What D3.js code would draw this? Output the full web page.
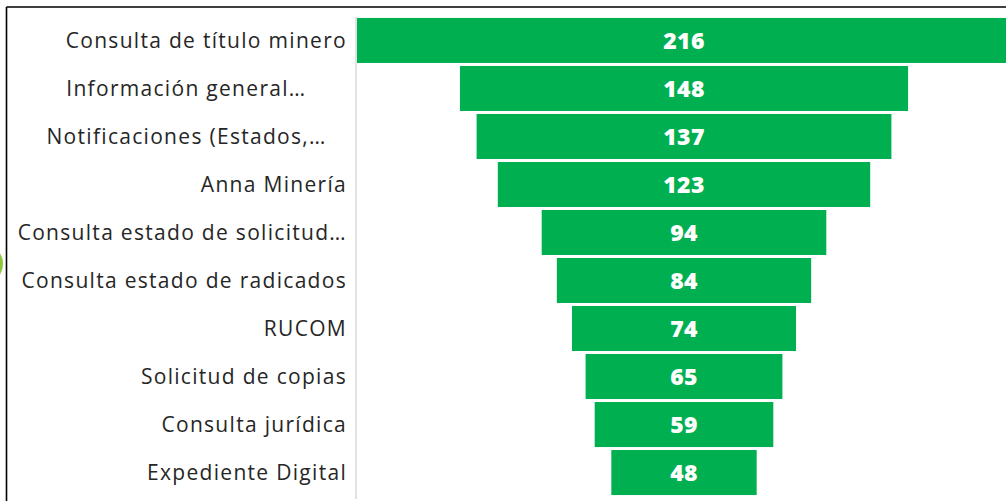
<!DOCTYPE html>
<html><head><meta charset="utf-8">
<script src="https://cdn.jsdelivr.net/npm/d3@7"></script>
<style>body{margin:0;background:#fff;}svg{display:block;}</style>
</head><body>
<svg id="c" width="1006" height="501"></svg>
<script>
const categories = ["Consulta de título minero","Información general…\u00a0\u00a0\u00a0\u00a0\u00a0\u00a0","Notificaciones (Estados,…\u00a0\u00a0\u00a0","Anna Minería","Consulta estado de solicitud…","Consulta estado de radicados","RUCOM","Solicitud de copias","Consulta jurídica","Expediente Digital"];
const values = [216,148,137,123,94,84,74,65,59,48];

const svg = d3.select("#c");
const W = 1006, H = 501;
const cx = 684;
const x = d3.scaleLinear().domain([0,216]).range([0,654]);
const y = d3.scaleBand().domain(categories).range([17,496]).paddingInner(0.0625).paddingOuter(0.02);

svg.append("defs").append("clipPath").attr("id","clip").append("rect").attr("x",0).attr("y",0).attr("width",W).attr("height",H);

// border lines
svg.append("line").attr("x1",6.5).attr("x2",W).attr("y1",7).attr("y2",7).attr("stroke","#000").attr("stroke-width",1.6);
svg.append("line").attr("x1",6.5).attr("x2",6.5).attr("y1",7).attr("y2",H).attr("stroke","#000").attr("stroke-width",1.6);
// partial green shape at left edge
svg.append("ellipse").attr("cx",-6).attr("cy",264).attr("rx",9).attr("ry",14).attr("fill","#8cc63f");

// axis line
svg.append("line").attr("x1",356).attr("x2",356).attr("y1",17).attr("y2",499).attr("stroke","#d9d9d9").attr("stroke-width",1.5);

const g = svg.append("g").attr("clip-path","url(#clip)");
g.selectAll("rect.bar").data(values).join("rect").attr("class","bar")
  .attr("x",(d)=>cx - x(d)/2).attr("width",d=>x(d))
  .attr("y",(d,i)=>y(categories[i])).attr("height",y.bandwidth())
  .attr("fill","#00b050");

g.selectAll("text.val").data(values).join("text").attr("class","val")
  .attr("x",cx).attr("y",(d,i)=>y(categories[i])+y.bandwidth()/2)
  .attr("dy","0.36em").attr("text-anchor","middle")
  .attr("font-family","'Open Sans', sans-serif").attr("font-weight","800").attr("font-size",23)
  .attr("letter-spacing","0.3px")
  .attr("fill","#fff").text(d=>d);

svg.selectAll("text.cat").data(categories).join("text").attr("class","cat")
  .attr("x",347).attr("y",d=>y(d)+y.bandwidth()/2)
  .attr("dy","0.36em").attr("text-anchor","end")
  .style("white-space","pre")
  .attr("font-family","'Open Sans', sans-serif").attr("font-size",21)
  .attr("letter-spacing","1.3px")
  .attr("fill","#262626").text(d=>d);
</script>
</body></html>
